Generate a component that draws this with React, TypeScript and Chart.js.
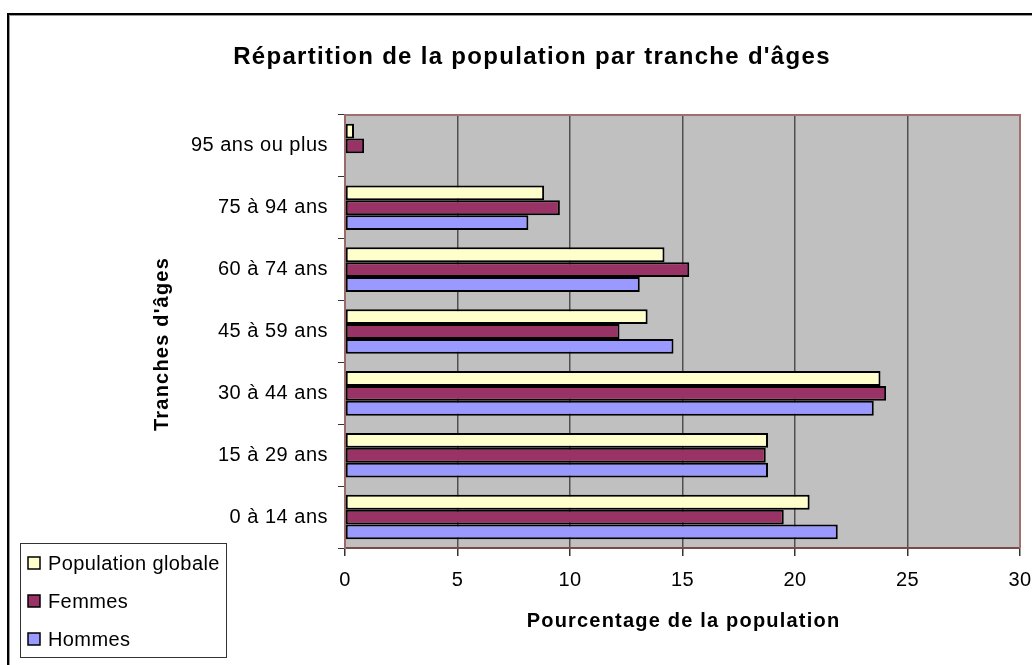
import { useEffect, useRef } from 'react';
import { Chart, registerables } from 'chart.js';

Chart.register(...registerables);

const categories = ['95 ans ou plus', '75 à 94 ans', '60 à 74 ans', '45 à 59 ans', '30 à 44 ans', '15 à 29 ans', '0 à 14 ans'];
const populationGlobale = [0.4, 8.85, 14.2, 13.45, 23.8, 18.8, 20.65];
const femmes = [0.85, 9.55, 15.3, 12.2, 24.05, 18.7, 19.5];
const hommes = [0, 8.15, 13.1, 14.6, 23.5, 18.8, 21.9];
const xTicks = [0, 5, 10, 15, 20, 25, 30];
const seriesLabels = ['Population globale', 'Femmes', 'Hommes'];
const seriesColors = ['#FFFFCC', '#993366', '#9999FF'];
const chartTitle = "Répartition de la population par tranche d'âges";
const xTitle = 'Pourcentage de la population';
const yTitle = "Tranches d'âges";

const FONT = '"Liberation Sans", Arial, sans-serif';

const decorPlugin = {
  id: 'decor',
  beforeDraw(chart: any) {
    const { ctx, chartArea } = chart;
    ctx.save();
    ctx.fillStyle = '#ffffff';
    ctx.fillRect(0, 0, chart.width, chart.height);
    // outer frame (left + top visible)
    ctx.fillStyle = '#000000';
    ctx.fillRect(7, 13, chart.width - 7, 2);
    ctx.fillRect(7, 13, 2, chart.height - 13);
    ctx.fillStyle = '#9a9a9a';
    ctx.fillRect(9, 15, chart.width - 9, 1);
    ctx.fillRect(9, 15, 1, chart.height - 15);
    // plot area
    ctx.fillStyle = '#C0C0C0';
    ctx.fillRect(chartArea.left, chartArea.top, chartArea.right - chartArea.left, chartArea.bottom - chartArea.top);
    ctx.restore();
    (ctx as any).letterSpacing = '0.5px';
  },
  afterDraw(chart: any) {
    const { ctx, chartArea } = chart;
    ctx.save();
    // plot border top + right
    ctx.strokeStyle = '#a07070';
    ctx.lineWidth = 2;
    ctx.beginPath();
    ctx.moveTo(chartArea.left, chartArea.top);
    ctx.lineTo(chartArea.right, chartArea.top);
    ctx.lineTo(chartArea.right, chartArea.bottom);
    ctx.stroke();

    ctx.fillStyle = '#000';
    ctx.textAlign = 'center';
    ctx.textBaseline = 'middle';
    (ctx as any).letterSpacing = '1.3px';
    ctx.font = `bold 24px ${FONT}`;
    ctx.fillText(chartTitle, 532, 57);

    (ctx as any).letterSpacing = '1.2px';
    ctx.font = `bold 20px ${FONT}`;
    ctx.fillText(xTitle, (chartArea.left + chartArea.right) / 2 + 1, 621);

    ctx.save();
    ctx.translate(162, 344);
    ctx.rotate(-Math.PI / 2);
    ctx.fillText(yTitle, 0, 0);
    ctx.restore();

    // legend
    ctx.strokeStyle = '#333';
    ctx.lineWidth = 1;
    ctx.strokeRect(20.5, 543.5, 206, 114);
    (ctx as any).letterSpacing = '0.4px';
    ctx.font = `20px ${FONT}`;
    ctx.textAlign = 'left';
    const rows = [563, 601, 639];
    chart.data.datasets.forEach((ds: any, i: number) => {
      const y = rows[i];
      ctx.fillStyle = ds.backgroundColor;
      ctx.fillRect(28, y - 6, 12, 12);
      ctx.strokeStyle = '#000';
      ctx.lineWidth = 1.5;
      ctx.strokeRect(28, y - 6, 12, 12);
      ctx.fillStyle = '#000';
      ctx.fillText(ds.label, 48, y + 1);
    });
    ctx.restore();
  },
};

export default function App() {
  const ref = useRef<HTMLCanvasElement>(null);
  useEffect(() => {
    document.body.style.margin = '0';
    const datasets = [populationGlobale, femmes, hommes].map((d, i) => ({
      label: seriesLabels[i],
      data: d,
      backgroundColor: seriesColors[i],
      borderColor: '#000000',
      borderWidth: 2,
      borderSkipped: false as any,
      barPercentage: 1,
      categoryPercentage: 0.72,
    }));
    const chart = new Chart(ref.current as HTMLCanvasElement, {
      type: 'bar',
      data: { labels: categories, datasets },
      plugins: [decorPlugin],
      options: {
        indexAxis: 'y',
        animation: false,
        responsive: true,
        maintainAspectRatio: false,
        layout: { padding: { left: 0, top: 115, right: 12, bottom: 0 } },
        plugins: { legend: { display: false }, tooltip: { enabled: false }, title: { display: false } },
        scales: {
          x: {
            type: 'linear',
            min: 0,
            max: 30,
            afterBuildTicks: (s: any) => {
              s.ticks = xTicks.map((v) => ({ value: v }));
            },
            afterFit: (s: any) => {
              s.height = 117;
              s.paddingRight = 0;
              s.paddingLeft = 0;
            },
            grid: { color: '#505050', lineWidth: 1.5, tickLength: 8, tickColor: '#333333', drawTicks: true },
            border: { display: true, color: '#7a4a4a', width: 2 },
            ticks: { color: '#000', font: { family: FONT, size: 20 }, padding: 12, maxRotation: 0 },
          },
          y: {
            type: 'category',
            afterFit: (s: any) => {
              s.width = 345;
              s.paddingTop = 0;
              s.paddingBottom = 0;
            },
            grid: { drawOnChartArea: false, tickLength: 7, color: '#333333', offset: true },
            border: { display: true, color: '#9a6a6a', width: 2 },
            ticks: { color: '#000', font: { family: FONT, size: 20 }, padding: 10 },
          },
        },
      },
    });
    return () => chart.destroy();
  }, []);
  return (
    <div style={{ width: 1032, height: 665, position: 'relative' }}>
      <canvas ref={ref} />
    </div>
  );
}
